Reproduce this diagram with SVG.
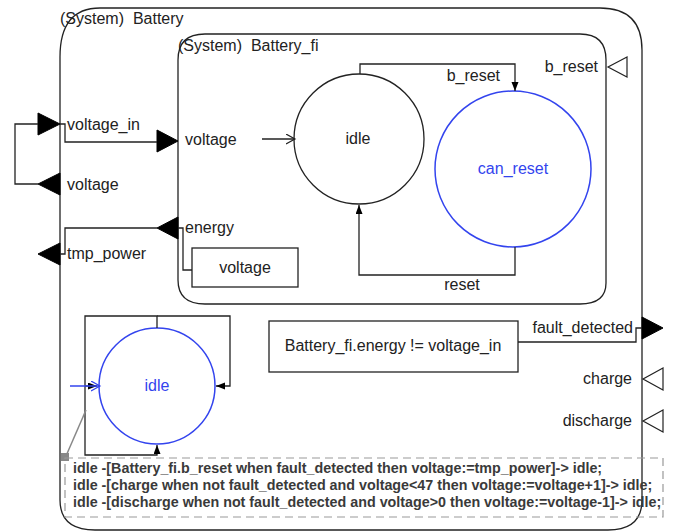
<svg xmlns="http://www.w3.org/2000/svg" width="678" height="532" viewBox="0 0 678 532">
<style>
text{font-family:"Liberation Sans",Arial,sans-serif;font-size:16px;fill:#222}
.blue{fill:#3344ee}
.m{text-anchor:middle}
.e{text-anchor:end}
.code{font-size:14.3px;font-weight:bold;fill:#3a3a3a}
.ln{fill:none;stroke:#222;stroke-width:1.3}
.bx{fill:#fff;stroke:#222;stroke-width:1.3}
.fp{fill:#000;stroke:#000;stroke-width:1}
.op{fill:#fff;stroke:#222;stroke-width:1.2}
</style>
<defs>
<marker id="fa" markerUnits="userSpaceOnUse" markerWidth="10" markerHeight="8" refX="9" refY="3.5" orient="auto"><path d="M0,0 L9,3.5 L0,7 z" fill="#000"/></marker>
<marker id="oa" markerUnits="userSpaceOnUse" markerWidth="11" markerHeight="12" refX="9" refY="5" orient="auto"><path d="M0,0 L9,5 L0,10" fill="none" stroke="#222" stroke-width="1.2"/></marker>
<marker id="ob" markerUnits="userSpaceOnUse" markerWidth="11" markerHeight="12" refX="9" refY="5" orient="auto"><path d="M0,0 L9,5 L0,10" fill="none" stroke="#3344ee" stroke-width="1.2"/></marker>
</defs>
<g id="battery">
<path class="ln" d="M100,8 H600 Q642,8 642,50 V500 Q642,530 608,530 H95 Q60,530 60,500 V57 Q60,8 100,8 Z"/>
<text x="60" y="24">(System)&#160; Battery</text>
</g>
<g id="battery_fi">
<path class="ln" d="M205,34 H580 Q606,34 606,60 V283 Q606,304 580,304 H205 Q178,304 178,280 V60 Q178,34 205,34 Z"/>
<text x="178" y="51">(System)&#160; Battery_fi</text>
</g>
<g id="port_voltage_in"><polygon class="fp" points="38,113 60,124 38,135"/><text x="67" y="130">voltage_in</text></g>
<g id="port_voltage_out"><polygon class="fp" points="60,173 38,184 60,195"/><text x="67" y="190">voltage</text></g>
<g id="port_tmp_power"><polygon class="fp" points="60,243 38,254 60,265"/><text x="67" y="259">tmp_power</text></g>
<g id="port_fi_voltage"><polygon class="fp" points="157,130 178,141 157,152"/><text x="185" y="145">voltage</text></g>
<g id="port_fi_energy"><polygon class="fp" points="178,217 157,228 178,239"/><text x="185" y="233">energy</text></g>
<g id="port_fi_b_reset"><polygon class="op" points="627,57 608,67 627,77"/><text class="e" x="598" y="72">b_reset</text></g>
<g id="port_fault_detected"><polygon class="fp" points="642,317 663,328 642,339"/><text class="e" x="633" y="333">fault_detected</text></g>
<g id="port_charge"><polygon class="op" points="663,368 643,379 663,390"/><text class="e" x="632" y="384">charge</text></g>
<g id="port_discharge"><polygon class="op" points="663,410 643,421 663,432"/><text class="e" x="632" y="426">discharge</text></g>
<g id="energy_value"><rect class="bx" x="192" y="248" width="106" height="39"/><text class="m" x="245" y="273">voltage</text></g>
<g id="fi_idle"><circle cx="359" cy="139" r="65" fill="none" stroke="#222" stroke-width="1.3"/><text class="m" x="358" y="144">idle</text></g>
<g id="fi_can_reset"><circle cx="513" cy="169" r="78" fill="none" stroke="#3344ee" stroke-width="1.5"/><text class="m blue" x="513" y="174">can_reset</text></g>
<g id="fault_expr"><rect class="bx" x="269" y="321" width="249" height="51"/><text class="m" x="393" y="351">Battery_fi.energy != voltage_in</text></g>
<g id="idle"><circle cx="157" cy="386" r="58" fill="none" stroke="#3344ee" stroke-width="1.5"/><text class="m blue" x="157" y="391">idle</text></g>
<g id="connectors">
<polyline class="ln" points="38,124 15,124 15,184 38,184"/>
<polyline class="ln" points="60,124 65,124 65,142 157,142"/>
<polyline class="ln" points="157,228 65,228 65,254 60,254"/>
<polyline class="ln" points="178,228 183,228 183,270 192,270"/>
<line class="ln" x1="262" y1="139" x2="295" y2="139" marker-end="url(#oa)"/>
<polyline class="ln" points="360,74 360,64 515,64 515,91" marker-end="url(#fa)"/>
<text x="500" y="81" class="e">b_reset</text>
<polyline class="ln" points="515,247 515,275 359,275 359,205" marker-end="url(#fa)"/>
<text x="462" y="290" class="m">reset</text>
<polyline class="ln" points="518,342 636,342 636,328 642,328"/>
<polyline class="ln" points="157,328 157,316 85,316 85,455 157,455 157,445" marker-end="url(#fa)"/>
<polyline class="ln" points="157,316 230,316 230,386 216,386" marker-end="url(#fa)"/>
<line class="ln" x1="85" y1="386" x2="97" y2="386" marker-end="url(#fa)"/>
<line x1="70" y1="386" x2="100" y2="386" stroke="#3344ee" stroke-width="1.5" marker-end="url(#ob)"/>
<line x1="86" y1="410" x2="66" y2="456" stroke="#888" stroke-width="1.5"/>
</g>
<g id="transitions_note">
<rect x="61" y="453" width="8" height="8" fill="#888"/>
<rect x="65" y="458" width="598" height="59" fill="none" stroke="#999" stroke-width="1.2" stroke-dasharray="8,5"/>
<text class="code" x="73" y="473">idle -[Battery_fi.b_reset when fault_detected then voltage:=tmp_power]-&gt; idle;</text>
<text class="code" x="73" y="490">idle -[charge when not fault_detected and voltage&lt;47 then voltage:=voltage+1]-&gt; idle;</text>
<text class="code" x="73" y="507">idle -[discharge when not fault_detected and voltage&gt;0 then voltage:=voltage-1]-&gt; idle;</text>
</g>
</svg>
